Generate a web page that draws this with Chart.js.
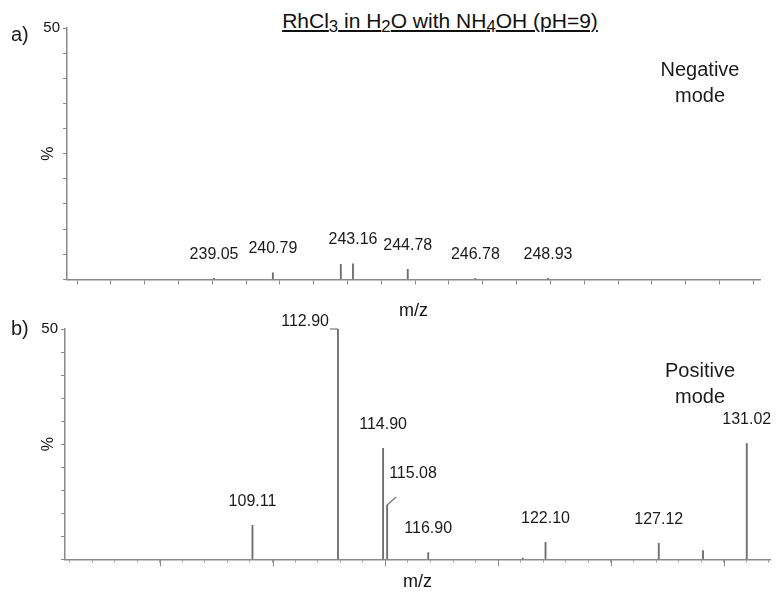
<!DOCTYPE html>
<html lang="en">
<head>
<meta charset="UTF-8">
<title>RhCl3 in H2O with NH4OH (pH=9)</title>
<script src="https://cdn.jsdelivr.net/npm/chart.js"></script>
<style>
  body { margin: 0; background: #fff; overflow: hidden; }
  #wrap { position: relative; width: 776px; height: 596px; font-family: "Liberation Sans", Arial, sans-serif; }
  canvas { position: absolute; left: 0; }
  #title { position: absolute; left: 140px; width: 600px; top: 9px; text-align: center;
           font-size: 21px; line-height: 24px; text-decoration: underline; color: #111; }
  #title sub { font-size: 0.8em; vertical-align: -0.22em; line-height: 0; }
</style>
</head>
<body>
<div id="wrap">
  <div id="title">RhCl<sub>3</sub> in H<sub>2</sub>O with NH<sub>4</sub>OH (pH=9)</div>
  <canvas id="neg" width="776" height="322" style="top:0"></canvas>
  <canvas id="pos" width="776" height="300" style="top:296px"></canvas>
</div>
<script>
// a) negative mode peaks
const negMz = [239.05, 240.79, 242.80, 243.16, 244.78, 246.78, 248.93];
const negPct = [0.2, 1.3, 3.0, 3.1, 2.0, 0.2, 0.2];
const negLabels = ['239.05', '240.79', '', '243.16', '244.78', '246.78', '248.93'];

// b) positive mode peaks (112.90 is off scale)
const posMz = [109.11, 112.90, 114.90, 115.08, 116.90, 121.09, 122.10, 127.12, 129.08, 131.02];
const posPct = [7.4, 100, 24.1, 11.8, 1.5, 0.3, 3.7, 3.5, 1.9, 25.2];
const posLabels = ['109.11', '112.90', '114.90', '115.08', '116.90', '', '122.10', '127.12', '', '131.02'];
const posKinds = ['above', 'flag', 'above', 'leader', 'above', '', 'above', 'above', '', 'above'];

const FONT = '"Liberation Sans", Arial, sans-serif';
const AXIS = '#8a8a8a';
const PEAK = '#6e6e6e';

function labelPlugin(cfg) {
  return {
    id: 'peakLabels',
    afterDatasetsDraw(chart) {
      const { ctx, chartArea } = chart;
      const x = chart.scales.x, y = chart.scales.y;
      ctx.save();
      ctx.fillStyle = '#1a1a1a';
      ctx.strokeStyle = PEAK;
      ctx.lineWidth = 1.1;
      ctx.font = '16px ' + FONT;
      ctx.textBaseline = 'middle';
      cfg.mz.forEach((m, i) => {
        const txt = cfg.labels[i];
        if (!txt) return;
        const px = x.getPixelForValue(m);
        const top = y.getPixelForValue(Math.min(cfg.pct[i], y.max));
        const kind = cfg.kinds ? cfg.kinds[i] : 'above';
        if (kind === 'flag') {
          ctx.beginPath(); ctx.moveTo(px, top); ctx.lineTo(px - 8, top); ctx.stroke();
          ctx.textAlign = 'right';
          ctx.fillText(txt, px - 9, top - 7);
        } else if (kind === 'leader') {
          ctx.beginPath(); ctx.moveTo(px, top); ctx.lineTo(px + 9, top - 8); ctx.stroke();
          ctx.textAlign = 'left';
          ctx.fillText(txt, px + 2, top - 31);
        } else {
          ctx.textAlign = 'center';
          ctx.fillText(txt, px, top - 24);
        }
      });
      // longer ticks every 5 units
      if (cfg.majorEvery) {
        ctx.strokeStyle = AXIS;
        ctx.lineWidth = 1;
        for (let v = Math.ceil(x.min / cfg.majorEvery) * cfg.majorEvery; v <= x.max; v += cfg.majorEvery) {
          const px = Math.round(x.getPixelForValue(v)) + 0.5;
          ctx.beginPath(); ctx.moveTo(px, chartArea.bottom); ctx.lineTo(px, chartArea.bottom + 7); ctx.stroke();
        }
      }
      ctx.font = '20px ' + FONT;
      ctx.textAlign = 'left';
      ctx.fillText(cfg.tag, 11, chartArea.top + cfg.tagDy);
      ctx.textAlign = 'center';
      cfg.mode.forEach((line, k) => ctx.fillText(line, 700, chartArea.top + 42 + 26 * k));
      ctx.restore();
    }
  };
}

function spectrum(id, mz, pct, opts) {
  new Chart(document.getElementById(id), {
    type: 'bar',
    data: {
      datasets: [{
        data: mz.map((m, i) => ({ x: m, y: pct[i] })),
        backgroundColor: PEAK,
        barThickness: 1.2,
        borderWidth: 0
      }]
    },
    options: {
      responsive: false,
      animation: false,
      devicePixelRatio: 1,
      layout: { padding: opts.padding },
      plugins: { legend: { display: false }, tooltip: { enabled: false } },
      scales: {
        x: {
          type: 'linear',
          min: opts.xMin,
          max: opts.xMax,
          offset: false,
          grid: { offset: false, drawOnChartArea: false, tickLength: opts.tickLength, tickColor: AXIS },
          border: { color: AXIS, width: 1.5 },
          ticks: { display: false, stepSize: 1, includeBounds: false },
          title: { display: true, text: 'm/z', color: '#111', font: { family: FONT, size: 18 },
                   padding: { top: opts.titlePad, bottom: 0 } }
        },
        y: {
          min: 0,
          max: 50,
          grid: { drawOnChartArea: false, tickLength: 4, tickColor: AXIS },
          border: { color: AXIS, width: 1.5 },
          ticks: {
            stepSize: 5, padding: 3, autoSkip: false, color: '#111',
            font: { family: FONT, size: 15 },
            callback: v => (v === 50 ? '50' : '')
          },
          title: { display: true, text: '%', color: '#111', font: { family: FONT, size: 16 },
                   padding: { top: 39, bottom: 0 } },
          afterFit(scale) { scale.width = opts.axisLeft; }
        }
      }
    },
    plugins: [labelPlugin(opts.labelCfg)]
  });
}

spectrum('neg', negMz, negPct, {
  xMin: 234.7, xMax: 255.2, padding: { top: 28, right: 16, left: 0, bottom: 0 },
  tickLength: 5, titlePad: 16, axisLeft: 67,
  labelCfg: { mz: negMz, pct: negPct, labels: negLabels, tag: 'a)', tagDy: 7, mode: ['Negative', 'mode'] }
});

spectrum('pos', posMz, posPct, {
  xMin: 100.8, xMax: 132.05, padding: { top: 33, right: 6, left: 0, bottom: 3 },
  tickLength: 3, titlePad: 9, axisLeft: 65,
  labelCfg: { mz: posMz, pct: posPct, labels: posLabels, kinds: posKinds, tag: 'b)', tagDy: 0,
              mode: ['Positive', 'mode'], majorEvery: 5 }
});
</script>
</body>
</html>
